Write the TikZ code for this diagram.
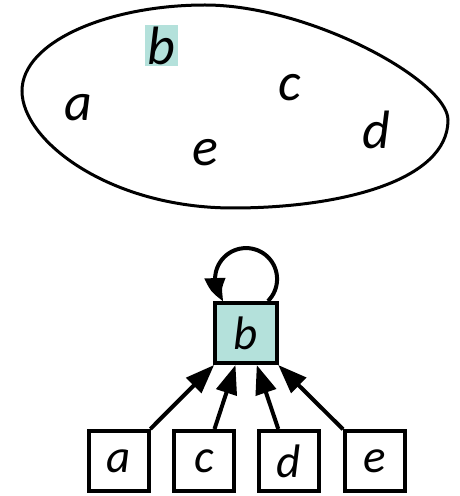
\documentclass[tikz,border=0pt]{standalone}
\usepackage{fontspec}
\setmainfont{Carlito}
\usetikzlibrary{arrows.meta,bending}
\definecolor{tealfill}{HTML}{B4E1DB}
\tikzset{
  setlabel/.style={font=\fontsize{54}{60}\selectfont\itshape, inner sep=0pt},
  vbox/.style={draw, line width=4pt, minimum width=60pt, minimum height=60pt,
               inner sep=0pt, font=\fontsize{47}{52}\selectfont\itshape},
  parent/.style={-{Triangle[length=29pt,width=21pt]}, line width=4pt},
}
\begin{document}
\begin{tikzpicture}[x=1pt,y=1pt]
\useasboundingbox (0,0) rectangle (459,496);

% the set drawn as a closed blob
\draw[line width=3pt] (22,405)
  .. controls (22,455) and (110,491) .. (205,491)
  .. controls (310,491) and (448,415) .. (448,376)
  .. controls (448,315) and (340,288) .. (233,288)
  .. controls (110,288) and (22,355) .. cycle;

% elements of the set
\node[setlabel, fill=tealfill, minimum width=33pt, minimum height=41pt] (sb) at (161.5,450.5) {b};
\node[setlabel] (sa) at (78,388) {a};
\node[setlabel] (sc) at (290,408) {c};
\node[setlabel] (sd) at (376,366) {d};
\node[setlabel] (se) at (205,343) {e};

% graph: b with its self loop and four incoming edges
\node[vbox, fill=tealfill, minimum width=62pt] (b) at (246,163) {b};
\node[vbox] (a) at (118.5,35) {a};
\node[vbox] (c) at (204,35) {c};
\node[vbox] (d) at (289,35) {d};
\node[vbox] (e) at (375,35) {e};

\draw[parent, -{Triangle[length=26pt,width=20pt,bend]}]
  ([xshift=22pt]b.north) arc[start angle=-45, end angle=225, radius=31pt];
\foreach \v in {a,c,d,e} \draw[parent] (\v) -- (b);
\end{tikzpicture}
\end{document}
